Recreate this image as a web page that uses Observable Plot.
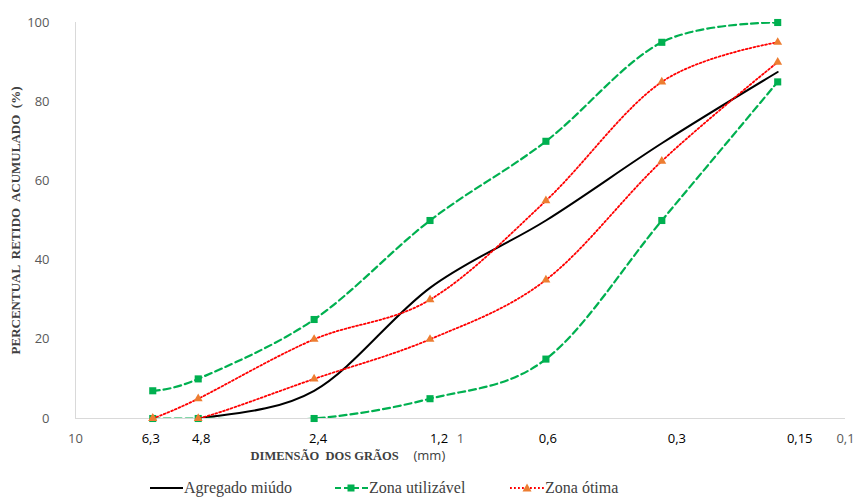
<!DOCTYPE html>
<html><head><meta charset="utf-8">
<script src="https://cdn.jsdelivr.net/npm/d3@7"></script>
<script src="https://cdn.jsdelivr.net/npm/@observablehq/plot@0.6"></script>
<style>
body{margin:0;background:#fff;}
#chart{width:858px;}
#chart svg text{white-space:pre;}
#legend{position:relative;width:858px;height:25px;font-family:"Liberation Serif","Times New Roman",serif;font-size:16px;color:#404040;}
.item{position:absolute;top:0;display:flex;align-items:center;height:25px;white-space:nowrap;}
.item svg{display:block;}
</style></head><body>
<div id="chart"></div>
<div id="legend"></div>
<script>
// Sieve sizes (mm)
const sieves = [6.3, 4.8, 2.4, 1.2, 0.6, 0.3, 0.15];
const sieveLabels = ["6,3", "4,8", "2,4", "1,2", "0,6", "0,3", "0,15"];
const axisTicks = [10, 1, 0.1];
const axisTickLabels = ["10", "1", "0,1"];
const yTicks = [0, 20, 40, 60, 80, 100];

// Series (% retido acumulado)
const agregado   = [0, 0, 7, 33, 50, 69.5, 87.5];
const utilLower  = [0, 0, 0, 5, 15, 50, 85];
const utilUpper  = [7, 10, 25, 50, 70, 95, 100];
const otimaLower = [0, 0, 10, 20, 35, 65, 90];
const otimaUpper = [0, 5, 20, 30, 55, 85, 95];

const toRows = (vals, series) => sieves.map((s, i) => ({size: s, value: vals[i], series}));
const rowsAgregado = toRows(agregado, "Agregado miúdo");
const rowsUtil = [...toRows(utilUpper, "util-upper"), ...toRows(utilLower, "util-lower")];
const rowsOtima = [...toRows(otimaUpper, "otima-upper"), ...toRows(otimaLower, "otima-lower")];
const sieveTickRows = sieves.map((s, i) => ({size: s, label: sieveLabels[i]}));
const axisTickRows = axisTicks.map((s, i) => ({size: s, label: axisTickLabels[i]}));

const GREEN = "#00B050", RED = "#FF0000", ORANGE = "#ED7D31";
const labelNudge = {6.3: -2, 4.8: 3, 2.4: 4, 1.2: 9, 0.6: 2, 0.3: 15, 0.15: 22};
const tickFont = "Open Sans";
const serif = "Liberation Serif, Times New Roman, serif";

const chart = Plot.plot({
  width: 858,
  height: 475,
  marginLeft: 75,
  marginRight: 13,
  marginTop: 22,
  marginBottom: 57,
  style: {fontFamily: tickFont, background: "#fff"},
  x: {type: "log", domain: [10, 0.1], axis: null},
  y: {domain: [0, 100], axis: null},
  marks: [
    Plot.ruleX([10], {stroke: "#d9d9d9", strokeWidth: 1}),
    Plot.ruleY([0], {stroke: "#d9d9d9", strokeWidth: 1}),
    Plot.text(yTicks, {y: d => d, text: d => String(d), frameAnchor: "left", textAnchor: "end", dx: -26,
      fontSize: 13, fill: "#595959"}),
    Plot.text(axisTickRows, {x: "size", text: "label", frameAnchor: "bottom", lineAnchor: "middle", dy: 20,
      fontSize: 13, fill: "#595959"}),
    ...sieveTickRows.map(r => Plot.text([r], {x: "size", text: "label", frameAnchor: "bottom", lineAnchor: "middle",
      dy: 20, dx: labelNudge[r.size] || 0, fontSize: 13, fill: "#000"})),
    Plot.line(rowsAgregado, {x: "size", y: "value", stroke: "#000", strokeWidth: 2, curve: "cardinal", clip: true}),
    Plot.line(rowsUtil, {x: "size", y: "value", z: "series", stroke: GREEN, strokeWidth: 2.2,
      strokeDasharray: "7,4", curve: "cardinal", clip: true}),
    Plot.dot(rowsUtil, {x: "size", y: "value", symbol: "square", r: 4, fill: GREEN, stroke: null}),
    Plot.line(rowsOtima, {x: "size", y: "value", z: "series", stroke: RED, strokeWidth: 1.8,
      strokeDasharray: "1.8,2.2", curve: "cardinal", clip: true}),
    Plot.dot(rowsOtima, {x: "size", y: "value", symbol: "triangle", r: 3.3, fill: ORANGE, stroke: null}),
    Plot.text(["PERCENTUAL  RETIDO  ACUMULADO  (%)"], {text: d => d, frameAnchor: "left", rotate: -90,
      textAnchor: "middle", lineAnchor: "middle", dx: -60, fontFamily: serif, fontWeight: "bold",
      fontSize: 13, fill: "#404040"}),
    Plot.text(["DIMENSÃO  DOS GRÃOS"], {text: d => d, frameAnchor: "bottom-left", textAnchor: "start",
      lineAnchor: "middle", dx: 175, dy: 37, fontFamily: serif, fontWeight: "bold",
      fontSize: 12.5, fill: "#404040"}),
    Plot.text(["(mm)"], {text: d => d, frameAnchor: "bottom-left", textAnchor: "start",
      lineAnchor: "middle", dx: 338, dy: 37, fontFamily: tickFont, fontSize: 13, fill: "#404040"})
  ]
});
document.getElementById("chart").appendChild(chart);

// Legend
const legendItems = [
  {label: "Agregado miúdo", left: 150, svg: `<svg width="33" height="10"><line x1="0" y1="5" x2="33" y2="5" stroke="#000" stroke-width="2"/></svg>`},
  {label: "Zona utilizável", left: 335, svg: `<svg width="33" height="10"><line x1="0" y1="5" x2="33" y2="5" stroke="${GREEN}" stroke-width="2.2" stroke-dasharray="6,3"/><rect x="12.5" y="1.5" width="7" height="7" fill="${GREEN}"/></svg>`},
  {label: "Zona ótima", left: 510, svg: `<svg width="34" height="10"><line x1="0" y1="5" x2="34" y2="5" stroke="${RED}" stroke-width="1.8" stroke-dasharray="1.8,2.2"/><path d="M17,0.5 L21.5,8.5 L12.5,8.5 Z" fill="${ORANGE}"/></svg>`}
];
const legend = document.getElementById("legend");
for (const it of legendItems) {
  const d = document.createElement("div");
  d.className = "item";
  d.style.left = it.left + "px";
  d.innerHTML = it.svg + `<span style="margin-left:1px">${it.label}</span>`;
  legend.appendChild(d);
}
</script>
</body></html>
